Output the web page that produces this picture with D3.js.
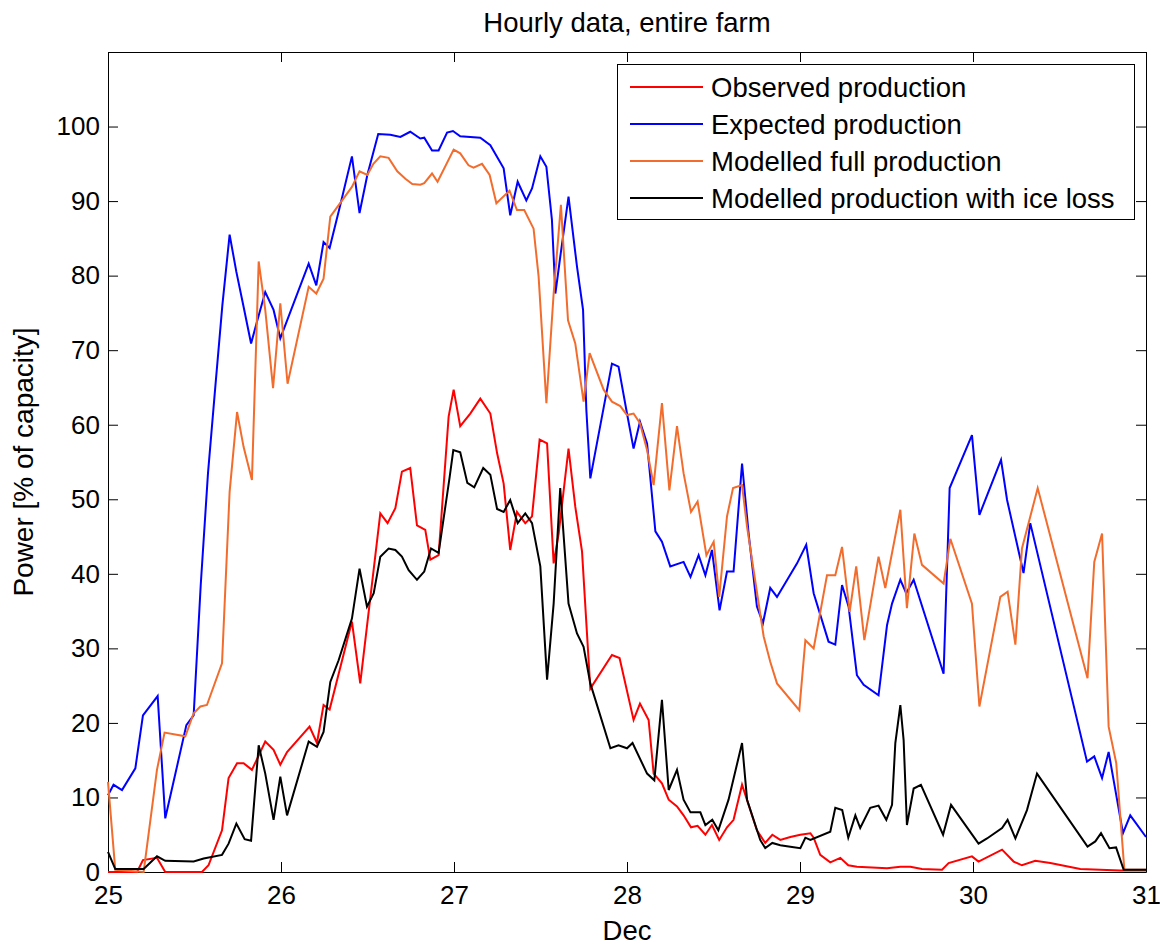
<!DOCTYPE html>
<html>
<head>
<meta charset="utf-8">
<script src="https://cdn.jsdelivr.net/npm/d3@7"></script>
<style>
  body { margin: 0; background: #fff; }
  text { font-family: "Liberation Sans", Helvetica, Arial, sans-serif; fill: #000; }
</style>
</head>
<body>
<div id="chart"></div>
<script>
// x ticks (days of December) and y ticks (% of capacity)
const dayTicks = [25, 26, 27, 28, 29, 30, 31];
const powerTicks = [0, 10, 20, 30, 40, 50, 60, 70, 80, 90, 100];

const seriesNames = ["Observed production", "Expected production", "Modelled full production", "Modelled production with ice loss"];
const seriesColors = ["#ff0000", "#0000ff", "#f26d2d", "#000000"];

// [day, % of capacity]
const observed = [[25.000,0],[25.168,0],[25.202,1.6],[25.283,1.9],[25.331,0],[25.543,0],[25.581,0.9],[25.659,5.6],[25.697,12.6],
  [25.746,14.6],[25.784,14.6],[25.832,13.7],[25.909,17.5],[25.957,16.4],[25.996,14.4],[26.035,16.1],[26.165,19.5],[26.208,17.3],
  [26.246,22.4],[26.281,21.8],[26.410,33.6],[26.458,25.3],[26.574,48.1],[26.616,46.8],[26.661,48.8],[26.699,53.7],[26.747,54.2],
  [26.786,46.5],[26.834,45.9],[26.863,41.9],[26.911,42.5],[26.969,61.1],[26.998,64.7],[27.036,59.8],[27.094,61.5],[27.152,63.5],
  [27.210,61.5],[27.249,56.2],[27.287,52.1],[27.325,43.2],[27.364,48.3],[27.412,46.8],[27.451,47.7],[27.495,58],[27.538,57.5],
  [27.576,41.4],[27.605,45.4],[27.662,56.8],[27.701,49],[27.740,43],[27.788,24.6],[27.913,29.1],[27.957,28.7],[28.038,20.4],
  [28.075,22.6],[28.125,20.4],[28.154,13.2],[28.202,11.9],[28.241,9.7],[28.289,8.8],[28.327,7.6],[28.370,6.0],[28.408,6.2],
  [28.453,5.0],[28.491,6.3],[28.533,4.3],[28.578,6.0],[28.616,7.0],[28.665,11.7],[28.703,9],[28.751,5.6],[28.799,3.9],[28.840,5.0],
  [28.886,4.3],[28.944,4.7],[29.002,5.0],[29.060,5.2],[29.079,4.6],[29.117,2.3],[29.175,1.3],[29.233,1.9],[29.279,0.9],[29.329,0.7],
  [29.503,0.5],[29.580,0.7],[29.638,0.7],[29.705,0.4],[29.821,0.3],[29.859,1.2],[29.994,2.1],[30.032,1.4],[30.168,3.0],[30.235,1.4],
  [30.283,0.9],[30.360,1.5],[30.447,1.2],[30.620,0.4],[30.851,0.2],[31.000,0.2]];

const expected = [[25.000,10.3],[25.032,11.7],[25.081,11.0],[25.158,13.9],[25.202,21.0],[25.287,23.6],[25.331,7.2],[25.453,19.7],
  [25.495,21.0],[25.536,38.5],[25.578,53.5],[25.620,65],[25.661,76],[25.703,85.5],[25.742,80.5],[25.784,75.8],[25.827,70.9],
  [25.861,73.8],[25.909,77.8],[25.957,75.4],[25.996,71.6],[26.160,81.6],[26.204,78.7],[26.246,84.5],[26.281,83.7],[26.343,89.5],
  [26.410,96],[26.454,88.4],[26.499,93.5],[26.562,99],[26.632,98.9],[26.690,98.6],[26.747,99.3],[26.805,98.4],[26.828,98.5],
  [26.873,96.8],[26.911,96.8],[26.960,99.2],[26.994,99.4],[27.036,98.7],[27.152,98.5],[27.210,97.5],[27.287,94.4],[27.325,88.1],
  [27.368,92.6],[27.418,90.1],[27.451,91.7],[27.499,96],[27.534,94.6],[27.566,87.5],[27.586,77.6],[27.614,82.5],[27.662,90.6],
  [27.711,81.2],[27.746,75.4],[27.765,62],[27.788,52.8],[27.913,68.2],[27.951,67.8],[28.000,61.5],[28.038,56.8],[28.075,60.4],
  [28.116,57.5],[28.164,45.7],[28.202,44.3],[28.250,41],[28.327,41.6],[28.367,39.6],[28.414,42.5],[28.453,39.8],[28.491,43.2],
  [28.535,35.1],[28.578,40.3],[28.616,40.3],[28.665,54.8],[28.703,45.4],[28.751,35.6],[28.786,33.4],[28.828,38.1],[28.867,36.9],
  [28.983,41.4],[29.036,43.9],[29.079,37.4],[29.165,30.9],[29.204,30.5],[29.243,38.5],[29.281,35.6],[29.329,26.4],[29.368,25.1],
  [29.454,23.7],[29.503,33.1],[29.532,36],[29.580,39.2],[29.614,37.4],[29.657,39.2],[29.830,26.6],[29.865,51.5],[29.994,58.6],
  [30.037,47.9],[30.162,55.3],[30.197,49.9],[30.292,40.1],[30.331,46.8],[30.659,14.8],[30.701,15.5],[30.746,12.6],[30.784,16.1],
  [30.867,5.2],[30.909,7.6],[31.000,4.7]];

const modelledFull = [[25.000,12.1],[25.042,0.3],[25.206,0],[25.283,13.7],[25.327,18.7],[25.447,18.2],[25.495,21.3],[25.534,22.2],
  [25.572,22.4],[25.659,28],[25.703,51],[25.746,61.7],[25.784,57],[25.832,52.6],[25.871,81.9],[25.909,75.4],[25.954,64.9],
  [25.996,76.3],[26.038,65.5],[26.160,78.5],[26.204,77.6],[26.246,79.6],[26.285,87.9],[26.410,91.9],[26.454,94],[26.499,93.5],
  [26.534,95],[26.574,96],[26.622,95.8],[26.672,94],[26.719,93],[26.759,92.3],[26.805,92.2],[26.828,92.4],[26.873,93.7],
  [26.905,92.6],[26.998,96.9],[27.036,96.4],[27.084,94.8],[27.113,94.5],[27.162,95],[27.206,93.5],[27.245,89.7],[27.321,91.4],
  [27.364,88.8],[27.406,88.8],[27.460,86.3],[27.489,79.9],[27.534,62.9],[27.576,77.6],[27.618,89.5],[27.659,74],[27.701,70.9],
  [27.749,63.1],[27.784,69.6],[27.865,64.7],[27.913,63.1],[27.961,62.5],[28.000,61.3],[28.038,61.5],[28.075,60.2],[28.116,56.6],
  [28.154,51.9],[28.202,62.9],[28.245,51.2],[28.289,59.8],[28.327,53.5],[28.370,48.3],[28.408,49.7],[28.459,42.5],[28.501,44.3],
  [28.533,36.9],[28.578,47.7],[28.613,51.5],[28.665,51.9],[28.694,46.3],[28.790,31.6],[28.828,28.2],[28.867,25.3],[28.996,21.7],
  [29.031,31.1],[29.079,30],[29.156,39.8],[29.204,39.8],[29.243,43.6],[29.287,34.9],[29.325,41],[29.372,31.1],[29.454,42.3],
  [29.493,38.1],[29.580,48.6],[29.618,35.4],[29.661,45.4],[29.705,41.2],[29.830,38.7],[29.869,44.7],[29.994,36],[30.037,22.2],
  [30.158,36.9],[30.200,37.6],[30.245,30.5],[30.283,43.4],[30.374,51.5],[30.662,26],[30.701,41.6],[30.746,45.4],[30.784,19.5],
  [30.828,14.6],[30.875,0.3],[31.000,0.3]];

const modelledIce = [[25.000,2.7],[25.042,0.4],[25.206,0.4],[25.283,2.1],[25.331,1.5],[25.495,1.4],[25.553,1.8],[25.659,2.3],
  [25.697,3.8],[25.742,6.5],[25.790,4.4],[25.827,4.2],[25.871,17],[25.909,13.2],[25.957,7],[25.996,12.8],[26.035,7.6],[26.160,17.5],
  [26.208,16.8],[26.246,18.8],[26.285,25.5],[26.333,28.4],[26.410,34],[26.454,40.7],[26.497,35.6],[26.536,37.4],[26.574,42.3],
  [26.622,43.4],[26.661,43.2],[26.699,42.3],[26.738,40.5],[26.786,39.2],[26.828,40.3],[26.867,43.4],[26.911,42.8],[26.975,53],
  [26.996,56.6],[27.036,56.3],[27.077,52.2],[27.117,51.6],[27.169,54.2],[27.210,53.3],[27.249,48.7],[27.287,48.3],[27.325,49.9],
  [27.368,46.8],[27.412,48.1],[27.451,46.8],[27.499,41],[27.538,25.8],[27.576,36],[27.614,51.5],[27.662,36],[27.711,32],[27.749,30.2],
  [27.788,25.3],[27.904,16.6],[27.951,17],[28.000,16.6],[28.032,17.3],[28.116,13.2],[28.158,12.3],[28.202,23.1],[28.241,11],
  [28.289,13.7],[28.327,9.7],[28.367,8],[28.424,8],[28.453,6.3],[28.493,7],[28.528,5.6],[28.587,9.7],[28.665,17.3],[28.694,9.7],
  [28.770,4.3],[28.799,3.2],[28.840,3.9],[28.886,3.6],[28.944,3.4],[29.002,3.2],[29.031,4.6],[29.060,4.3],[29.175,5.4],[29.204,8.6],
  [29.244,8.3],[29.279,4.6],[29.320,7.6],[29.348,5.9],[29.406,8.6],[29.454,8.9],[29.499,7],[29.532,9],[29.551,17.3],[29.580,22.4],
  [29.599,17.7],[29.618,6.3],[29.657,11.2],[29.699,11.7],[29.827,5],[29.873,9],[30.032,3.8],[30.081,4.5],[30.168,5.9],[30.200,7],
  [30.245,4.5],[30.312,8.3],[30.370,13.2],[30.662,3.4],[30.707,4.1],[30.740,5.2],[30.789,3.2],[30.827,3.3],[30.871,0.3],[31.000,0.3]];

const allSeries = [observed, expected, modelledFull, modelledIce];

const W = 1160, H = 947;
const margin = {top: 52, right: 14, bottom: 75, left: 108};
const width = W - margin.left - margin.right,
      height = H - margin.top - margin.bottom;

const svg = d3.select("#chart").append("svg").attr("width", W).attr("height", H);
const g = svg.append("g").attr("transform", `translate(${margin.left},${margin.top})`);

const x = d3.scaleLinear().domain([25, 31]).range([0, width]);
const y = d3.scaleLinear().domain([0, 110]).range([height, 0]);

const fs = 26, fsBig = 27.5;

// box axes, ticks pointing inward (matlab style)
g.append("g").attr("transform", `translate(0,${height})`)
  .call(d3.axisBottom(x).tickValues(dayTicks).tickFormat(d3.format("d")).tickSizeInner(-10).tickSizeOuter(0).tickPadding(14));
g.append("g")
  .call(d3.axisTop(x).tickValues(dayTicks).tickFormat("").tickSizeInner(-10).tickSizeOuter(0));
g.append("g")
  .call(d3.axisLeft(y).tickValues(powerTicks).tickSizeInner(-10).tickSizeOuter(0).tickPadding(8));
g.append("g").attr("transform", `translate(${width},0)`)
  .call(d3.axisRight(y).tickValues(powerTicks).tickFormat("").tickSizeInner(-10).tickSizeOuter(0));
g.selectAll(".tick text").style("font-size", fs + "px").style("font-family", '"Liberation Sans", Helvetica, Arial, sans-serif');
g.selectAll(".domain, .tick line").attr("stroke", "#000");

const line = d3.line().x(d => x(d[0])).y(d => y(d[1]));

allSeries.forEach((s, i) => {
  g.append("path").datum(s)
    .attr("fill", "none").attr("stroke", seriesColors[i]).attr("stroke-width", 2)
    .attr("d", line);
});

// title and labels
svg.append("text").attr("x", margin.left + width / 2).attr("y", 32).attr("text-anchor", "middle")
  .style("font-size", fsBig + "px").text("Hourly data, entire farm");
svg.append("text").attr("x", margin.left + width / 2).attr("y", 940).attr("text-anchor", "middle")
  .style("font-size", fsBig + "px").text("Dec");
svg.append("text").attr("transform", `translate(33,${margin.top + height / 2}) rotate(-90)`).attr("text-anchor", "middle")
  .style("font-size", "28px").text("Power [% of capacity]");

// legend
const lg = svg.append("g");
lg.append("rect").attr("x", 617.5).attr("y", 64.5).attr("width", 517).attr("height", 155)
  .attr("fill", "#fff").attr("stroke", "#000").attr("stroke-width", 1);
seriesNames.forEach((name, i) => {
  const cy = 87 + i * 37;
  lg.append("line").attr("x1", 630).attr("x2", 703).attr("y1", cy).attr("y2", cy)
    .attr("stroke", seriesColors[i]).attr("stroke-width", 2);
  lg.append("text").attr("x", 711).attr("y", cy + 10).style("font-size", fsBig + "px").text(name);
});
</script>
</body>
</html>
